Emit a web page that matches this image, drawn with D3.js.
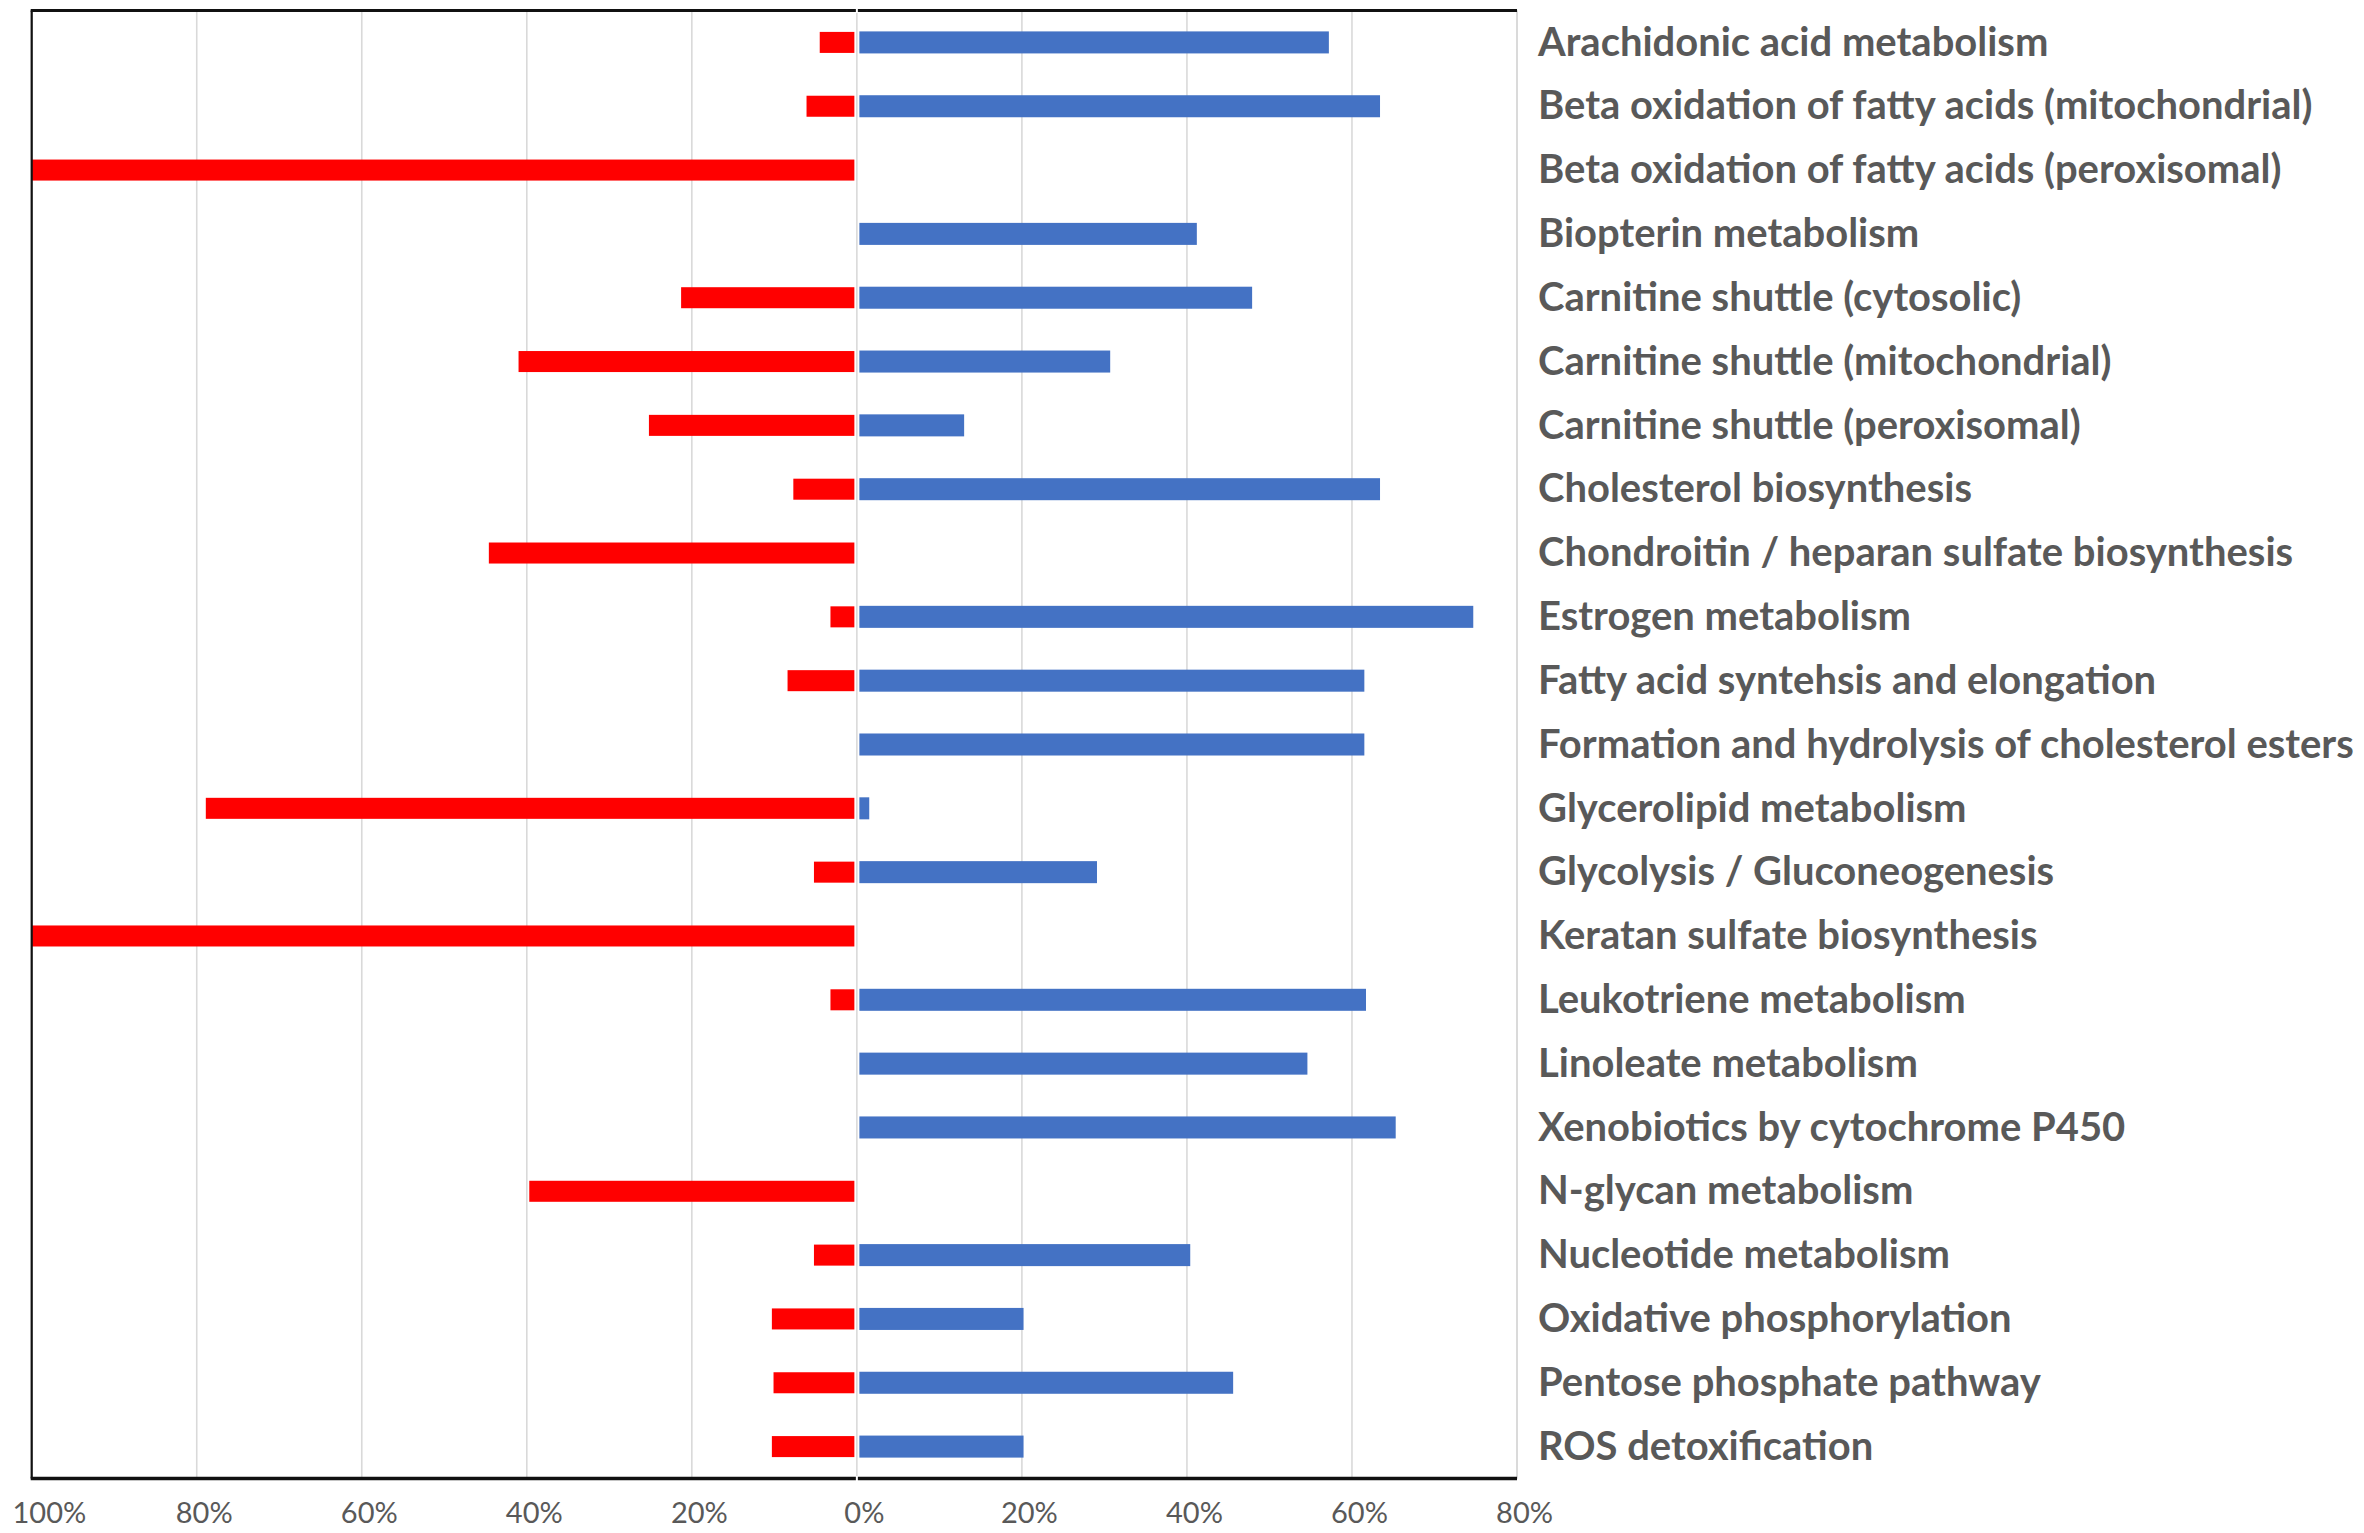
<!DOCTYPE html>
<html>
<head>
<meta charset="utf-8">
<script src="https://cdn.jsdelivr.net/npm/d3@7"></script>
<style>
  html, body { margin: 0; padding: 0; background: #ffffff; }
  svg { display: block; }
</style>
</head>
<body>
<svg id="chart" width="2364" height="1533"></svg>
<script>
// ---- data ----
const categories = [
  "Arachidonic acid metabolism",
  "Beta oxidation of fatty acids (mitochondrial)",
  "Beta oxidation of fatty acids (peroxisomal)",
  "Biopterin metabolism",
  "Carnitine shuttle (cytosolic)",
  "Carnitine shuttle (mitochondrial)",
  "Carnitine shuttle (peroxisomal)",
  "Cholesterol biosynthesis",
  "Chondroitin / heparan sulfate biosynthesis",
  "Estrogen metabolism",
  "Fatty acid syntehsis and elongation",
  "Formation and hydrolysis of cholesterol esters",
  "Glycerolipid metabolism",
  "Glycolysis / Gluconeogenesis",
  "Keratan sulfate biosynthesis",
  "Leukotriene metabolism",
  "Linoleate metabolism",
  "Xenobiotics by cytochrome P450",
  "N-glycan metabolism",
  "Nucleotide metabolism",
  "Oxidative phosphorylation",
  "Pentose phosphate pathway",
  "ROS detoxification"
];
// blue series (positive, %)
const upValues = [57.2, 63.4, 0, 41.2, 47.9, 30.7, 13.0, 63.4, 0, 74.7, 61.5, 61.5, 1.5, 29.1, 0, 61.7, 54.6, 65.3, 0, 40.4, 20.2, 45.6, 20.2];
// red series (negative, %)
const downValues = [-4.5, -6.1, -100, 0, -21.3, -41.0, -25.2, -7.7, -44.6, -3.2, -8.4, 0, -78.9, -5.2, -100, -3.2, 0, 0, -39.7, -5.2, -10.3, -10.1, -10.3];
const tickValues = [-100, -80, -60, -40, -20, 0, 20, 40, 60, 80];
const tickLabels = ["100%", "80%", "60%", "40%", "20%", "0%", "20%", "40%", "60%", "80%"];

// ---- layout ----
const plot = { left: 31.7, right: 1517, top: 10.5, bottom: 1478.5 };
const svg = d3.select("#chart");
const x = d3.scaleLinear().domain([-100, 80]).range([plot.left, plot.right]);
const y = d3.scaleBand().domain(categories).range([plot.top, plot.bottom])
  .paddingInner(0.655).paddingOuter(0.3275);
const gap = 2.5;
const labelColor = "#595959";
const font = "Lato, 'Open Sans', 'DejaVu Sans', sans-serif";

// gridlines
svg.append("g").selectAll("line").data(tickValues).join("line")
  .attr("x1", d => x(d)).attr("x2", d => x(d))
  .attr("y1", plot.top).attr("y2", plot.bottom)
  .attr("stroke", "#d9d9d9").attr("stroke-width", 1.6);

// red bars
svg.append("g").selectAll("rect").data(categories.map((c, i) => ({c, v: downValues[i]})).filter(d => d.v < 0))
  .join("rect")
  .attr("x", d => x(d.v))
  .attr("width", d => Math.max(0, x(0) - gap - x(d.v)))
  .attr("y", d => y(d.c) + 0.5)
  .attr("height", y.bandwidth() - 1)
  .attr("fill", "#ff0000");

// blue bars
svg.append("g").selectAll("rect").data(categories.map((c, i) => ({c, v: upValues[i]})).filter(d => d.v > 0))
  .join("rect")
  .attr("x", x(0) + gap)
  .attr("width", d => Math.max(0, x(d.v) - x(0) - gap))
  .attr("y", d => y(d.c))
  .attr("height", y.bandwidth())
  .attr("fill", "#4472c4");

// frame
const frame = svg.append("g");
frame.append("line").attr("x1", plot.right).attr("x2", plot.right)
  .attr("y1", plot.top).attr("y2", plot.bottom).attr("stroke", "#d9d9d9").attr("stroke-width", 1.6);
frame.append("line").attr("x1", plot.left).attr("x2", plot.left)
  .attr("y1", plot.top).attr("y2", plot.bottom).attr("stroke", "#111").attr("stroke-width", 2.2);
frame.append("line").attr("x1", plot.left - 1).attr("x2", plot.right)
  .attr("y1", plot.top).attr("y2", plot.top).attr("stroke", "#111").attr("stroke-width", 3.2);
frame.append("line").attr("x1", plot.left - 1).attr("x2", plot.right)
  .attr("y1", plot.bottom).attr("y2", plot.bottom).attr("stroke", "#111").attr("stroke-width", 3.6);
// small white break where the zero line crosses the frame
[plot.top, plot.bottom].forEach(yy => {
  frame.append("line").attr("x1", x(0)).attr("x2", x(0))
    .attr("y1", yy - 2.5).attr("y2", yy + 2.5).attr("stroke", "#ffffff").attr("stroke-width", 2);
});

// bottom axis (tick labels)
const xAxis = d3.axisBottom(x).tickValues(tickValues)
  .tickFormat((d, i) => tickLabels[i]).tickSize(0).tickPadding(0);
const gx = svg.append("g").attr("transform", `translate(0,${plot.bottom})`).call(xAxis);
gx.select(".domain").remove();
gx.selectAll("text")
  .attr("fill", labelColor)
  .attr("font-family", font)
  .attr("font-size", 29)
  .attr("y", 34).attr("dy", "0.35em")
  .attr("x", 7);
gx.selectAll(".tick").each(function(d) {
  const t = d3.select(this).select("text");
  const w = t.node().getComputedTextLength();
  const cx = x(d) + 7;
  if (cx - w / 2 < 12) t.attr("x", 12 + w / 2 - x(d));
});

// right axis (category labels)
const yAxis = d3.axisRight(y).tickSize(0).tickPadding(21);
const gy = svg.append("g").attr("transform", `translate(${plot.right},0)`).call(yAxis);
gy.select(".domain").remove();
const yt = gy.selectAll("text")
  .attr("fill", labelColor)
  .attr("font-family", font)
  .attr("font-weight", 700)
  .attr("font-size", 36)
  .attr("dy", "0.33em");
let maxW = 0;
yt.each(function() { maxW = Math.max(maxW, this.getComputedTextLength()); });
const fs = Math.max(30, Math.min(40, 36 * 816 / maxW));
yt.attr("font-size", fs);
</script>
</body>
</html>
